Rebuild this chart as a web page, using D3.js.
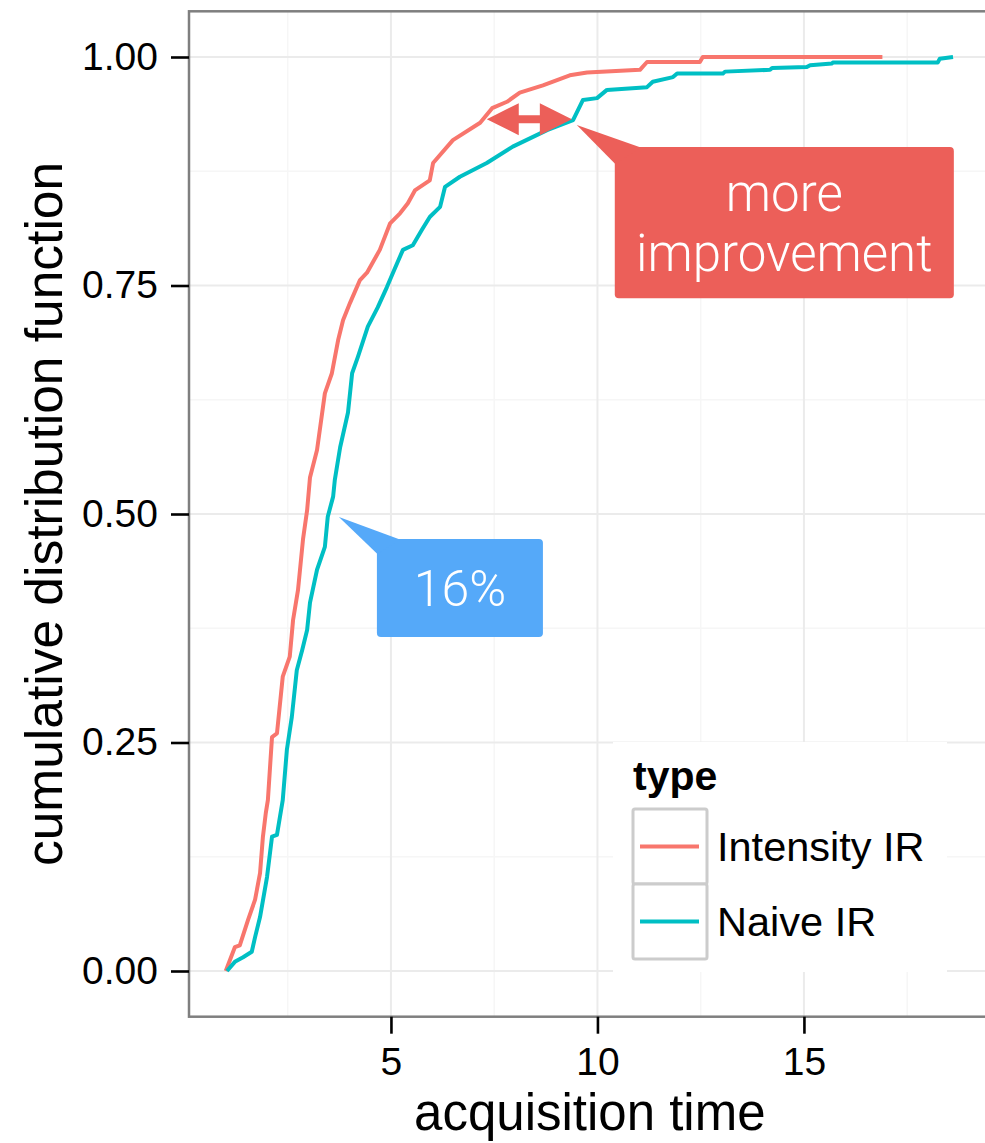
<!DOCTYPE html>
<html>
<head>
<meta charset="utf-8">
<script src="https://cdn.jsdelivr.net/npm/d3@7"></script>
<style>
  body { margin: 0; background: #fff; }
  text { font-family: "Liberation Sans", Arial, sans-serif; }
  .callout text { font-family: Roboto, "Open Sans", "Liberation Sans", sans-serif; font-weight: 300; }
</style>
</head>
<body>
<div id="myChart"></div>
<script>
let width = 985
let height = 1143

// traced ecdf, Intensity IR
const intensityX = [1.00, 1.22, 1.34, 1.54, 1.71, 1.83, 1.90, 1.97, 2.02, 2.12, 2.24, 2.38, 2.55, 2.63, 2.75, 2.87, 2.97, 3.04, 3.21, 3.40,
  3.57, 3.72, 3.84, 4.01, 4.25, 4.42, 4.73, 4.98, 5.22, 5.41, 5.58, 5.94, 6.02, 6.50, 7.16, 7.45, 7.81, 8.12, 8.68, 9.33,
  9.75, 11.03, 11.20, 12.48, 12.55, 16.90]
const intensityY = [0.000, 0.026, 0.028, 0.056, 0.078, 0.107, 0.147, 0.173, 0.187, 0.256, 0.260, 0.322, 0.344, 0.384, 0.417, 0.472, 0.504, 0.540, 0.570, 0.632,
  0.654, 0.690, 0.712, 0.731, 0.756, 0.764, 0.789, 0.818, 0.829, 0.840, 0.854, 0.865, 0.884, 0.909, 0.928, 0.944, 0.951, 0.961, 0.969, 0.980,
  0.983, 0.986, 0.9945, 0.9945, 1.000, 1.000]

// traced ecdf, Naive IR
const naiveX = [1.03, 1.22, 1.42, 1.63, 1.71, 1.83, 2.00, 2.12, 2.24, 2.31, 2.38, 2.48, 2.60, 2.72, 2.85, 2.97, 3.04, 3.21, 3.40, 3.47,
  3.60, 3.64, 3.77, 3.96, 4.06, 4.20, 4.44, 4.68, 4.90, 5.05, 5.29, 5.53, 5.75, 5.94, 6.19, 6.31, 6.67, 7.32, 7.95, 8.78,
  9.41, 9.65, 9.99, 10.23, 11.20, 11.34, 11.83, 11.93, 13.04, 13.09, 14.18, 14.23, 15.07, 15.15, 15.68, 15.70, 18.24, 18.29, 18.61]
const naiveY = [0.000, 0.010, 0.015, 0.021, 0.037, 0.059, 0.103, 0.147, 0.149, 0.168, 0.187, 0.242, 0.278, 0.329, 0.351, 0.373, 0.403, 0.439, 0.464, 0.497,
  0.519, 0.537, 0.573, 0.611, 0.654, 0.672, 0.705, 0.726, 0.748, 0.764, 0.789, 0.794, 0.811, 0.825, 0.836, 0.858, 0.869, 0.884, 0.902, 0.920,
  0.931, 0.953, 0.955, 0.964, 0.967, 0.973, 0.978, 0.982, 0.982, 0.984, 0.986, 0.988, 0.989, 0.991, 0.993, 0.994, 0.994, 0.998, 1.000]

const seriesNames = ["Intensity IR", "Naive IR"]
const seriesColors = ["#F8766D", "#00BFC4"]

const xTicks = [5, 10, 15]
const xMinor = [2.5, 7.5, 12.5, 17.5]
const yTicks = [0, 0.25, 0.5, 0.75, 1]
const yMinor = [0.125, 0.375, 0.625, 0.875]

// annotations (data units)
const arrowFrom = [7.32, 0.932]
const arrowTo = [9.38, 0.932]
const redBox = { x0: 10.42, x1: 18.63, y0: 0.9015, y1: 0.736, tx: 9.50, ty: 0.9256, lines: ["more", "improvement"], color: "#EC5F59" }
const blueBox = { x0: 4.66, x1: 8.68, y0: 0.4726, y1: 0.3654, tx: 3.74, ty: 0.4967, lines: ["16%"], color: "#55A9F9" }

let panel = { left: 189, top: 11.3, right: 990.6, bottom: 1016.7 }

let x = d3.scaleLinear().domain([0.11, 19.52]).range([panel.left, panel.right])
let y = d3.scaleLinear().domain([-0.05, 1.05]).range([panel.bottom, panel.top])

let svg = d3.select("#myChart")
  .append("svg")
  .attr("width", width)
  .attr("height", height)

// grid
let grid = svg.append("g")
grid.selectAll(".xminor").data(xMinor).enter().append("line")
  .attr("x1", d => x(d)).attr("x2", d => x(d))
  .attr("y1", panel.top).attr("y2", panel.bottom)
  .attr("stroke", "#f6f6f6").attr("stroke-width", 1.5)
grid.selectAll(".yminor").data(yMinor).enter().append("line")
  .attr("y1", d => y(d)).attr("y2", d => y(d))
  .attr("x1", panel.left).attr("x2", panel.right)
  .attr("stroke", "#f6f6f6").attr("stroke-width", 1.5)
grid.selectAll(".xmajor").data(xTicks).enter().append("line")
  .attr("x1", d => x(d)).attr("x2", d => x(d))
  .attr("y1", panel.top).attr("y2", panel.bottom)
  .attr("stroke", "#ebebeb").attr("stroke-width", 2)
grid.selectAll(".ymajor").data(yTicks).enter().append("line")
  .attr("y1", d => y(d)).attr("y2", d => y(d))
  .attr("x1", panel.left).attr("x2", panel.right)
  .attr("stroke", "#ebebeb").attr("stroke-width", 2)

// curves
let line = d3.line()
  .x(d => x(d[0]))
  .y(d => y(d[1]))

let curves = [
  d3.zip(intensityX, intensityY),
  d3.zip(naiveX, naiveY)
]

svg.append("g").selectAll("path")
  .data(curves)
  .enter().append("path")
  .attr("d", line)
  .attr("fill", "none")
  .attr("stroke", (d, i) => seriesColors[i])
  .attr("stroke-width", 4)
  .attr("stroke-linejoin", "round")

// panel border
svg.append("rect")
  .attr("x", panel.left).attr("y", panel.top)
  .attr("width", panel.right - panel.left).attr("height", panel.bottom - panel.top)
  .attr("fill", "none").attr("stroke", "#7f7f7f").attr("stroke-width", 2.5)

// axes
let xAxis = svg.append("g")
  .attr("transform", `translate(0,${panel.bottom})`)
  .call(d3.axisBottom(x).tickValues(xTicks).tickSize(17).tickPadding(4).tickFormat(d3.format("d")))
let yAxis = svg.append("g")
  .attr("transform", `translate(${panel.left},0)`)
  .call(d3.axisLeft(y).tickValues(yTicks).tickSize(18).tickPadding(13).tickFormat(d3.format(".2f")))

svg.selectAll(".domain").remove()
svg.selectAll(".tick line").attr("stroke", "#000").attr("stroke-width", 2.6)
svg.selectAll(".tick text")
  .attr("fill", "#000")
  .style("font-size", "39px")
  .style("font-family", "'Liberation Sans', Arial, sans-serif")
xAxis.selectAll(".tick text").attr("dy", "0.95em")

svg.append("text")
  .attr("x", (panel.left + panel.right) / 2)
  .attr("y", 1130)
  .attr("text-anchor", "middle")
  .style("font-size", "51px")
  .text("acquisition time")

svg.append("text")
  .attr("transform", `translate(62,${(panel.top + panel.bottom) / 2}) rotate(-90)`)
  .attr("text-anchor", "middle")
  .style("font-size", "51.5px")
  .text("cumulative distribution function")

// double arrow
let ax0 = x(arrowFrom[0]), ax1 = x(arrowTo[0]), ay = y(arrowFrom[1])
let headL = 32, headH = 16, shaft = 4
let arrowPath = d3.path()
arrowPath.moveTo(ax0, ay)
arrowPath.lineTo(ax0 + headL, ay - headH)
arrowPath.lineTo(ax0 + headL, ay - shaft)
arrowPath.lineTo(ax1 - headL, ay - shaft)
arrowPath.lineTo(ax1 - headL, ay - headH)
arrowPath.lineTo(ax1, ay)
arrowPath.lineTo(ax1 - headL, ay + headH)
arrowPath.lineTo(ax1 - headL, ay + shaft)
arrowPath.lineTo(ax0 + headL, ay + shaft)
arrowPath.lineTo(ax0 + headL, ay + headH)
arrowPath.closePath()
svg.append("path")
  .attr("d", arrowPath.toString())
  .attr("fill", redBox.color)

// callouts
function drawCallout(b, offTop, offLeft, fontSize, lineGap) {
  let g = svg.append("g").attr("class", "callout")
  let bx0 = x(b.x0), bx1 = x(b.x1), by0 = y(b.y0), by1 = y(b.y1)
  g.append("rect")
    .attr("x", bx0).attr("y", by0)
    .attr("width", bx1 - bx0).attr("height", by1 - by0)
    .attr("rx", 4)
    .attr("fill", b.color)
  g.append("path")
    .attr("d", `M${x(b.tx)},${y(b.ty)}L${bx0 + offTop},${by0 + 0.5}L${bx0 + 0.5},${by0 + offLeft}Z`)
    .attr("fill", b.color)
  let cy = (by0 + by1) / 2
  let n = b.lines.length
  g.selectAll("text")
    .data(b.lines)
    .enter().append("text")
    .attr("x", (bx0 + bx1) / 2)
    .attr("y", (d, i) => cy + (i - (n - 1) / 2) * lineGap)
    .attr("dy", "0.35em")
    .attr("text-anchor", "middle")
    .attr("fill", "#fff")
    .style("font-size", fontSize + "px")
    .text(d => d)
}

drawCallout(redBox, 26, 17, 51, 60)
drawCallout(blueBox, 23, 15, 50, 0)

// legend
let legend = svg.append("g")
legend.append("rect")
  .attr("x", 613).attr("y", 742)
  .attr("width", 334).attr("height", 230)
  .attr("fill", "#fff")
legend.append("text")
  .attr("x", 633).attr("y", 790)
  .style("font-size", "41px")
  .style("font-weight", "bold")
  .text("type")

let keys = legend.selectAll(".key")
  .data(seriesNames)
  .enter().append("g")
  .attr("transform", (d, i) => `translate(633,${809 + i * 75})`)
keys.append("rect")
  .attr("width", 74).attr("height", 75)
  .attr("rx", 2)
  .attr("fill", "#fff")
  .attr("stroke", "#cccccc")
  .attr("stroke-width", 3)
keys.append("line")
  .attr("x1", 7).attr("x2", 66)
  .attr("y1", 37.5).attr("y2", 37.5)
  .attr("stroke", (d, i) => seriesColors[i])
  .attr("stroke-width", 4)
keys.append("text")
  .attr("x", 84).attr("y", 37.5)
  .attr("dy", "0.36em")
  .style("font-size", "41.5px")
  .text(d => d)
</script>
</body>
</html>
